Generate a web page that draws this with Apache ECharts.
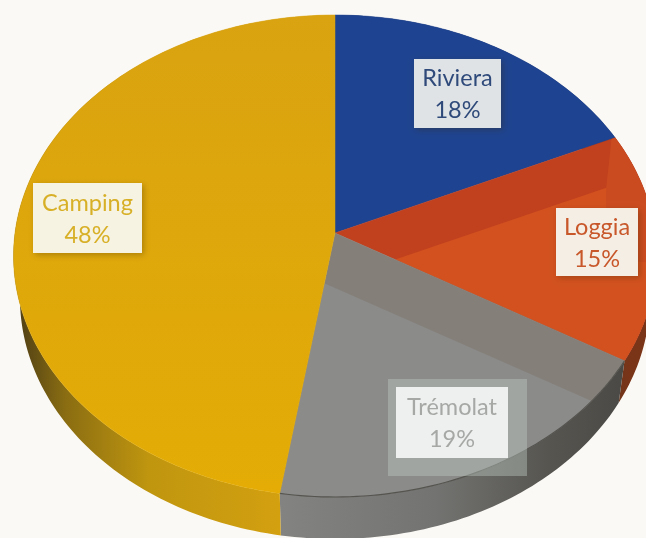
<!DOCTYPE html>
<html>
<head>
<meta charset="utf-8">
<script src="https://cdn.jsdelivr.net/npm/echarts@6/dist/echarts.min.js"></script>
<style>html,body{margin:0;padding:0;background:#fbf9f5}#c{width:646px;height:538px}</style>
</head>
<body>
<div id="c"></div>
<script>
// --- data ---
const categories = ['Riviera', 'Loggia', 'Trémolat', 'Camping'];
const shares = [18.2, 15.3, 19.0, 47.5];

// --- styles ---
const faceColors  = ['#1e4390', '#c1401e', '#847f79', '#dda60d'];
const sheenColors = [null, '#d2511f', '#8b8b8a', null];
const sheenShift  = [null, [0, 47], [-20, 46], null];
const textColors  = ['#2f4a7a', '#c8572a', '#a6a8a6', '#d8b028'];
const boxColors   = ['#dfe3e6', '#f5eee5', '#edf0ee', '#f6f3e2'];
const boxes = [[414, 59, 87, 69], [556, 208, 82, 68], [396, 387, 112, 71], [33, 183, 109, 70]];
const halo = [388, 379, 139, 97];
const edgeGlint = [[606, 190], [612, 135], [700, 135], [700, 262], [606, 262]];
const rimGradients = [
  [[0, '#16305f'], [1, '#16305f']],
  [[0, '#5a3a22'], [1, '#7a3418']],
  [[0, '#838381'], [0.45, '#737371'], [0.78, '#565550'], [1, '#4a4945']],
  [[0, '#4f3f15'], [0.18, '#8a6d12'], [0.5, '#c0960f'], [1, '#d3a010']]
];
const rimRanges = [[335, 620], [590, 630], [280, 625], [18, 280]];

// --- perspective disc ---
const cx = 335, cy = 233, rX = 320, rY = 238.8, tilt = 0.0954;
const lowerScale = 0.98, lowerDrop = 42;
const total = shares.reduce((a, b) => a + b, 0);
const cum = [];
shares.reduce((a, v, i) => (cum[i] = a, a + v), 0);

function topPoint(t) {
  const u = Math.sin(t), v = Math.cos(t), d = 1 + tilt * v;
  return [cx + rX * u / d, cy - rY * v / d];
}
function lowerPoint(t) {
  const p = topPoint(t);
  return [cx + (p[0] - cx) * lowerScale, p[1] + lowerDrop];
}
function angles(i) {
  return [cum[i] / total * 2 * Math.PI, (cum[i] + shares[i]) / total * 2 * Math.PI];
}
function arc(fn, a, b) {
  const n = Math.max(8, Math.ceil((b - a) / 0.02)), out = [];
  for (let k = 0; k <= n; k++) out.push(fn(a + (b - a) * k / n));
  return out;
}
function wedge(i) {
  const [a, b] = angles(i);
  return [[cx, cy]].concat(arc(topPoint, a, b));
}
function clipConvex(subject, clip) {
  let area = 0;
  clip.forEach((p, i) => { const q = clip[(i + 1) % clip.length]; area += p[0] * q[1] - q[0] * p[1]; });
  const sign = area > 0 ? 1 : -1;
  let out = subject;
  for (let i = 0; i < clip.length && out.length; i++) {
    const A = clip[i], B = clip[(i + 1) % clip.length], input = out;
    const side = P => sign * ((B[0] - A[0]) * (P[1] - A[1]) - (B[1] - A[1]) * (P[0] - A[0]));
    out = [];
    input.forEach((P, j) => {
      const Q = input[(j + 1) % input.length], sp = side(P), sq = side(Q);
      if (sp >= 0) out.push(P);
      if (sp * sq < 0) {
        const f = sp / (sp - sq);
        out.push([P[0] + (Q[0] - P[0]) * f, P[1] + (Q[1] - P[1]) * f]);
      }
    });
  }
  return out;
}

function renderRim(params) {
  const i = params.dataIndex, [a, b] = angles(i);
  const pts = arc(topPoint, a, b).concat(arc(lowerPoint, a, b).reverse());
  const r = rimRanges[i];
  return {
    type: 'polygon', shape: { points: pts },
    style: { fill: new echarts.graphic.LinearGradient(r[0], 0, r[1], 0,
      rimGradients[i].map(s => ({ offset: s[0], color: s[1] })), true) }
  };
}
function renderFace(params) {
  const i = params.dataIndex, w = wedge(i);
  const fill = i === 3
    ? new echarts.graphic.LinearGradient(0, 15, 0, 490, [{ offset: 0, color: '#d9a311' }, { offset: 1, color: '#e4ac05' }], true)
    : faceColors[i];
  const kids = [
    { type: 'polygon', shape: { points: w }, style: { fill: fill, stroke: fill, lineWidth: 0.5 } }
  ];
  if (sheenShift[i]) {
    const s = sheenShift[i];
    const sheen = clipConvex(w.map(p => [p[0] + s[0], p[1] + s[1]]), w);
    kids.push({ type: 'polygon', shape: { points: sheen }, style: { fill: sheenColors[i] } });
  }
  if (i === 1) {
    kids.push({ type: 'polygon', shape: { points: clipConvex(edgeGlint, w) }, style: { fill: '#cb4b20' } });
  }
  if (i === 2) {
    const [a, b] = angles(i);
    kids.push({ type: 'polyline', shape: { points: arc(topPoint, a, b) },
      style: { stroke: '#55544f', lineWidth: 1.2, fill: null } });
  }
  return { type: 'group', children: kids };
}
function renderLabel(params, api) {
  const i = params.dataIndex, b = boxes[i];
  const kids = [];
  if (i === 2) kids.push({ type: 'rect',
    shape: { x: halo[0], y: halo[1], width: halo[2], height: halo[3] },
    style: { fill: 'rgba(190,202,196,0.42)' } });
  kids.push({ type: 'rect',
    shape: { x: b[0], y: b[1], width: b[2], height: b[3] },
    style: i === 2 ? { fill: boxColors[i] }
      : { fill: boxColors[i], shadowBlur: 6, shadowOffsetX: 2, shadowOffsetY: 2, shadowColor: 'rgba(60,40,0,0.3)' } });
  kids.push({ type: 'text',
    style: {
      x: b[0] + b[2] / 2, y: b[1] + b[3] / 2 + 1,
      text: categories[i] + '\n' + Math.round(api.value(0)) + '%',
      fill: textColors[i], font: '23.5px Lato', lineHeight: 32,
      align: 'center', verticalAlign: 'middle'
    } });
  return { type: 'group', children: kids };
}

const rows = shares.map(v => [v]);
const chart = echarts.init(document.getElementById('c'), null, { renderer: 'canvas' });
chart.setOption({
  animation: false,
  backgroundColor: '#fbf9f5',
  series: [
    { type: 'custom', coordinateSystem: 'none', silent: true, z: 1, renderItem: renderRim, data: rows },
    { type: 'custom', coordinateSystem: 'none', silent: true, z: 2, renderItem: renderFace, data: rows },
    { type: 'custom', coordinateSystem: 'none', silent: true, z: 3, renderItem: renderLabel, data: rows }
  ]
});
</script>
</body>
</html>
